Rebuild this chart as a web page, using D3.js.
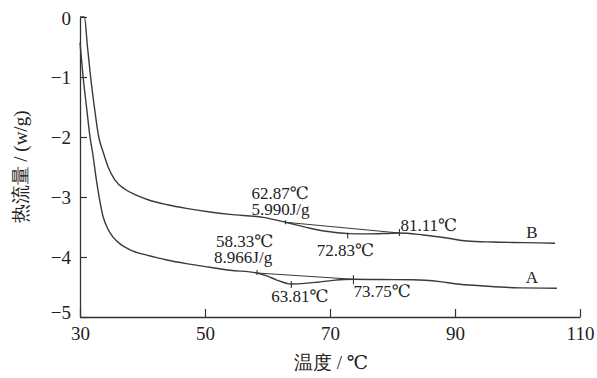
<!DOCTYPE html>
<html><head><meta charset="utf-8">
<script src="https://cdn.jsdelivr.net/npm/d3@7/dist/d3.min.js"></script>
<style>
html,body{margin:0;padding:0;background:#fff;}
svg text{font-family:"Liberation Serif","Tinos","Times New Roman","DejaVu Serif",serif;fill:#222;}
</style></head>
<body><svg id="c" width="597" height="378"></svg>
<script>
// ---- data ----
const xTicks = [30, 50, 70, 90, 110];
const yTicks = [0, -1, -2, -3, -4, -5];
const xTitle = "温度 / ℃";
const yTitle = "热流量 / (w/g)";

const curveBTemp = [30, 30.7, 31.2, 31.7, 32.3, 33.0, 33.7, 34.5, 35.6, 37.2, 39, 41, 44, 47, 50.8, 54, 59.3, 62.87, 66.8, 70, 72.83, 76, 79, 81.11, 84.9, 88.7, 91.9, 96, 101, 106];
const curveBFlow = [0, 0, -0.5, -1.0, -1.5, -2.0, -2.25, -2.5, -2.72, -2.87, -2.97, -3.05, -3.13, -3.19, -3.25, -3.29, -3.34, -3.42, -3.52, -3.58, -3.61, -3.615, -3.608, -3.6, -3.633, -3.683, -3.733, -3.75, -3.76, -3.77];

const curveATemp = [30, 30.5, 31.1, 31.6, 32.0, 32.7, 33.7, 34.4, 35.3, 36.5, 38, 40.7, 43.9, 47, 50.8, 54, 58.33, 60, 61.4, 63.81, 66, 68, 70.5, 73.75, 78, 83.3, 87.6, 90.3, 94, 100.4, 106.3];
const curveAFlow = [-0.43, -1.0, -1.55, -2.0, -2.25, -2.77, -3.33, -3.52, -3.67, -3.79, -3.88, -3.97, -4.05, -4.11, -4.17, -4.22, -4.267, -4.32, -4.38, -4.45, -4.44, -4.42, -4.39, -4.372, -4.376, -4.378, -4.41, -4.45, -4.478, -4.515, -4.52];

// peak analysis (onset, peak, end) temperatures and enthalpies
const peakB = {onset: 62.87, peak: 72.83, end: 81.11, enthalpy: "5.990J/g"};
const peakA = {onset: 58.33, peak: 63.81, end: 73.75, enthalpy: "8.966J/g"};
const seriesLabels = ["A", "B"];

// ---- layout ----
const svg = d3.select("#c");
const x = d3.scaleLinear().domain([30, 110]).range([80, 580]);
const y = d3.scaleLinear().domain([-5, 0]).range([317, 17]);
const ink = "#333";

function interp(ts, vs, t) {
  for (let i = 1; i < ts.length; i++) {
    if (t <= ts[i]) {
      const f = (t - ts[i-1]) / (ts[i] - ts[i-1]);
      return vs[i-1] + f * (vs[i] - vs[i-1]);
    }
  }
  return vs[vs.length - 1];
}

// axes
const xAxis = d3.axisBottom(x).tickValues(xTicks).tickSizeInner(-8).tickSizeOuter(0).tickPadding(12).tickFormat(d3.format("d"));
const gx = svg.append("g").attr("transform", "translate(0,317)").call(xAxis);
const yAxis = d3.axisLeft(y).tickValues(yTicks).tickSizeInner(-7).tickSizeOuter(0).tickPadding(9).tickFormat(d => d < 0 ? "\u2212" + Math.abs(d) : d);
const gy = svg.append("g").attr("transform", "translate(80,0)").call(yAxis);
[gx, gy].forEach(g => {
  g.select(".domain").attr("stroke", ink).attr("stroke-width", 1.3);
  g.selectAll(".tick line").attr("stroke", ink).attr("stroke-width", 1.2);
  g.selectAll(".tick text").style("font-size", "19px").attr("fill", "#222");
});
gx.selectAll(".tick text").attr("dy", "0.6em");
gy.selectAll(".tick text").filter(d => d === -5).attr("dy", "0.1em");
gy.selectAll(".tick text").filter(d => d === 0).attr("dy", "0.4em");

// titles
svg.append("text").attr("x", 331).attr("y", 369).attr("text-anchor", "middle")
  .style("font-size", "19px").text(xTitle);
svg.append("text").attr("transform", "translate(27,167) rotate(-90)").attr("text-anchor", "middle")
  .style("font-size", "19px").text(yTitle);

// curves
const line = d3.line().x(d => x(d[0])).y(d => y(d[1])).curve(d3.curveMonotoneX);
const dataB = curveBTemp.map((t, i) => [t, curveBFlow[i]]);
const dataA = curveATemp.map((t, i) => [t, curveAFlow[i]]);
[dataA, dataB].forEach(d => {
  svg.append("path").datum(d).attr("d", line).attr("fill", "none")
    .attr("stroke", "#3a3a3a").attr("stroke-width", 1.4);
});

// baselines of the melting peaks
function baseline(ts, vs, pk) {
  const a = [pk.onset, interp(ts, vs, pk.onset)];
  const b = [pk.end, interp(ts, vs, pk.end)];
  svg.append("line").attr("x1", x(a[0])).attr("y1", y(a[1])).attr("x2", x(b[0])).attr("y2", y(b[1]))
    .attr("stroke", "#3a3a3a").attr("stroke-width", 1.1);
}
baseline(curveBTemp, curveBFlow, peakB);
baseline(curveATemp, curveAFlow, peakA);

// markers
function marker(ts, vs, t, up, down) {
  const yy = y(interp(ts, vs, t));
  svg.append("line").attr("x1", x(t)).attr("x2", x(t)).attr("y1", yy - up).attr("y2", yy + down)
    .attr("stroke", "#333").attr("stroke-width", 1.1);
}
marker(curveBTemp, curveBFlow, peakB.onset, 2, 2);
marker(curveBTemp, curveBFlow, peakB.peak, 1, 5);
marker(curveBTemp, curveBFlow, peakB.end, 4, 3);
marker(curveATemp, curveAFlow, peakA.onset, 3, 2);
marker(curveATemp, curveAFlow, peakA.peak, 3, 4);
marker(curveATemp, curveAFlow, peakA.end, 4, 5);

// annotations
const fmt = d => d.toFixed(2) + "℃";
const ann = svg.append("g");
function txt(s, px, py, anchor) {
  return ann.append("text").attr("x", px).attr("y", py).attr("text-anchor", anchor || "start")
    .style("font-size", "17px").text(s);
}
// two-line labels (onset temperature + enthalpy) as one text block
function txt2(s1, s2, px, py, dx2) {
  const t = ann.append("text").attr("x", px).attr("y", py).style("font-size", "17px");
  t.append("tspan").attr("x", px).attr("y", py).text(s1);
  t.append("tspan").attr("x", px + (dx2 || 0)).attr("y", py + 16).text(s2);
}
txt2(fmt(peakB.onset), peakB.enthalpy, x(peakB.onset) - 34, 199, 0);
txt(fmt(peakB.peak), x(peakB.peak) - 31, 256);
txt(fmt(peakB.end), x(peakB.end) + 1, 231);
txt2(fmt(peakA.onset), peakA.enthalpy, x(peakA.onset) - 41, 247, -2);
txt(fmt(peakA.peak), x(peakA.peak) - 20, 302);
txt(fmt(peakA.end), x(peakA.end), 297);
txt(seriesLabels[1], 532, 238, "middle");
txt(seriesLabels[0], 532, 283, "middle");
</script></body></html>
